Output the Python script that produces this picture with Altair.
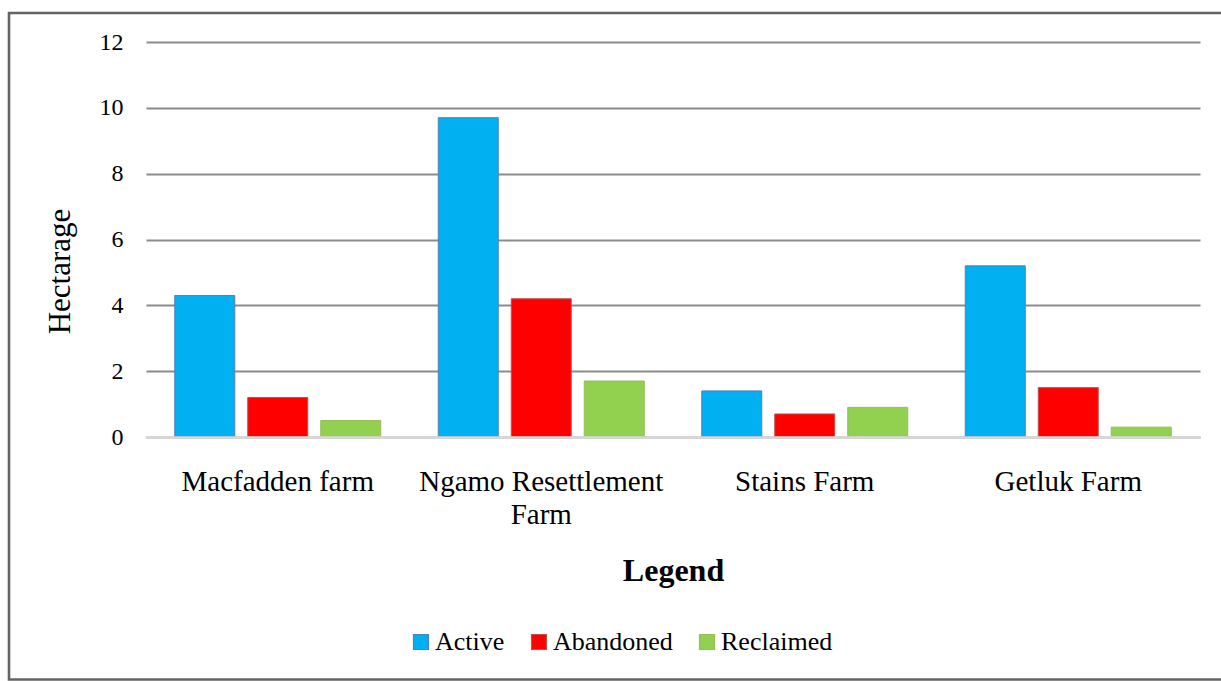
import altair as alt
import pandas as pd

farms = ["Macfadden farm", "Ngamo Resettlement Farm", "Stains Farm", "Getluk Farm"]
statuses = ["Active", "Abandoned", "Reclaimed"]
active = [4.3, 9.7, 1.4, 5.2]
abandoned = [1.2, 4.2, 0.7, 1.5]
reclaimed = [0.5, 1.7, 0.9, 0.3]
y_ticks = [0, 2, 4, 6, 8, 10, 12]

fill_colors = ["#00B0F0", "#FF0000", "#92D050"]
stroke_colors = ["#4F81BD", "#C0504D", "#9BBB59"]

rows = []
for i, f in enumerate(farms):
    for s, vals in zip(statuses, [active, abandoned, reclaimed]):
        rows.append({"farm": f, "status": s, "value": vals[i]})
df = pd.DataFrame(rows)

FONT = "Liberation Serif"

bars = alt.Chart(df).mark_bar(strokeWidth=1).encode(
    x=alt.X(
        "farm:N",
        sort=farms,
        scale=alt.Scale(paddingInner=0, paddingOuter=0),
        axis=alt.Axis(
            title="Legend",
            titleFont=FONT,
            titleFontSize=32,
            titleFontWeight="bold",
            titleColor="#000000",
            titleX=527,
            titleY=143,
            titleBaseline="alphabetic",
            titleAnchor="middle",
            labelFont=FONT,
            labelFontSize=29,
            labelColor="#000000",
            labelAngle=0,
            labelPadding=30,
            labelLineHeight=33,
            labelLimit=0,
            labelExpr="datum.label == 'Ngamo Resettlement Farm' ? ['Ngamo Resettlement', 'Farm'] : datum.label",
            ticks=False,
            tickSize=0,
            domainColor="#D9D9D9",
            domainWidth=2.3,
            zindex=1,
            grid=False,
        ),
    ),
    xOffset=alt.XOffset(
        "status:N",
        sort=statuses,
        scale=alt.Scale(paddingInner=0.178, paddingOuter=0.394),
    ),
    y=alt.Y(
        "value:Q",
        scale=alt.Scale(domain=[0, 12], nice=False),
        axis=alt.Axis(
            values=y_ticks,
            title="Hectarage",
            titleFont=FONT,
            titleFontSize=31,
            titleFontWeight="normal",
            titleColor="#000000",
            titleAngle=-90,
            titleX=-77,
            titleY=229,
            titleBaseline="alphabetic",
            titleAlign="center",
            labelFont=FONT,
            labelFontSize=24,
            labelColor="#000000",
            labelPadding=23,
            ticks=False,
            tickSize=0,
            domain=False,
            grid=True,
            gridColor="#8C8C8C",
            gridWidth=1.8,
        ),
    ),
    fill=alt.Fill(
        "status:N",
        sort=statuses,
        scale=alt.Scale(domain=statuses, range=fill_colors),
        legend=alt.Legend(title=None),
    ),
    stroke=alt.Stroke(
        "status:N",
        sort=statuses,
        scale=alt.Scale(domain=statuses, range=stroke_colors),
        legend=alt.Legend(title=None),
    ),
)

border = alt.Chart(pd.DataFrame({"a": [0]})).mark_rect(
    fill=None, stroke="#646464", strokeWidth=2.6
).encode(
    x=alt.value(-137),
    x2=alt.value(1090),
    y=alt.value(-29),
    y2=alt.value(637.5),
)

chart = alt.layer(bars, border).properties(
    width=1054,
    height=395,
    padding={"left": 146, "top": 42, "right": 21, "bottom": 244},
    autosize=alt.AutoSizeParams(type="none"),
    background="#FFFFFF",
).configure(font=FONT).configure_view(stroke=None).configure_legend(
    orient="none",
    legendX=262,
    legendY=587,
    direction="horizontal",
    padding=0,
    labelFont=FONT,
    labelFontSize=26,
    labelColor="#000000",
    labelOffset=1,
    columnPadding=21,
    symbolType="square",
    symbolSize=225,
    symbolStrokeWidth=1.2,
    labelBaseline="middle",
)

chart.save("out.html", embed_options={"renderer": "svg", "actions": False})
